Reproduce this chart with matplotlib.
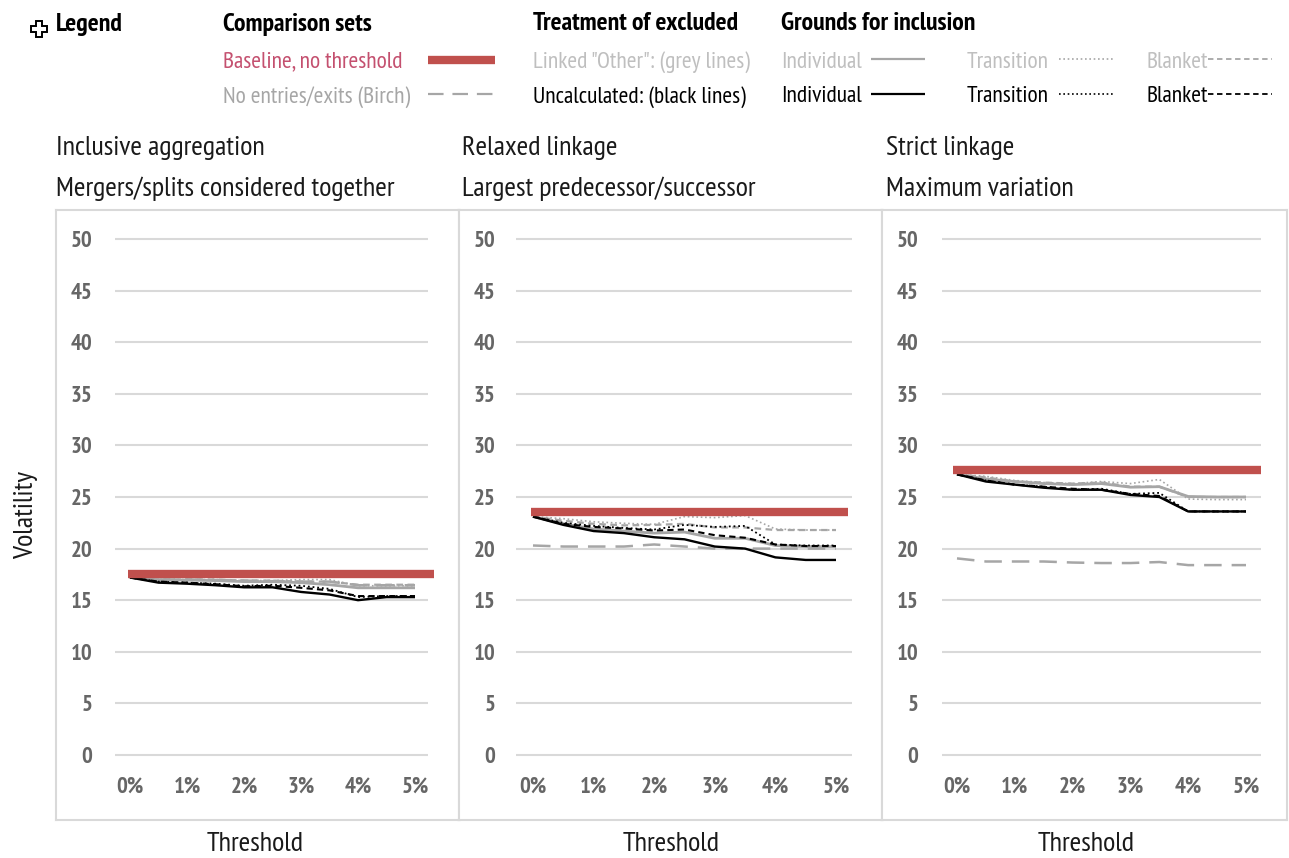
import matplotlib
matplotlib.use("Agg")
import matplotlib.pyplot as plt
from matplotlib.lines import Line2D
from matplotlib import font_manager as fm

W, H = 1289, 858
installed = {f.name for f in fm.fontManager.ttflist}
if 'PT Sans Narrow' in installed:
    plt.rcParams['font.family'] = ['PT Sans Narrow', 'Liberation Sans', 'DejaVu Sans']
    SCALE = 1.0
else:
    plt.rcParams['font.family'] = ['Liberation Sans', 'DejaVu Sans']
    SCALE = 0.72

thresholds = [0, 0.5, 1, 1.5, 2, 2.5, 3, 3.5, 4, 4.5, 5]
tick_vals = [0, 1, 2, 3, 4, 5]
tick_labels = ['0%', '1%', '2%', '3%', '4%', '5%']
y_ticks = [0, 5, 10, 15, 20, 25, 30, 35, 40, 45, 50]

# Inclusive aggregation
p1_black_solid = [17.2, 16.7, 16.6, 16.45, 16.25, 16.25, 15.8, 15.55, 15.0, 15.3, 15.3]
p1_black_dot = [17.2, 16.8, 16.7, 16.6, 16.4, 16.5, 16.4, 16.1, 15.3, 15.4, 15.4]
p1_black_dash = [17.2, 16.8, 16.7, 16.55, 16.35, 16.4, 16.2, 15.95, 15.4, 15.4, 15.4]
p1_grey_solid = [17.2, 16.95, 16.95, 16.9, 16.8, 16.8, 16.7, 16.5, 16.2, 16.2, 16.2]
p1_grey_dot = [17.2, 17.0, 17.0, 17.0, 16.9, 16.9, 17.0, 17.0, 16.4, 16.4, 16.4]
p1_grey_dash = [17.2, 17.0, 17.0, 17.0, 16.9, 16.9, 16.8, 16.8, 16.5, 16.5, 16.5]
p1_birch = [17.2, 17.0, 17.0, 16.95, 16.9, 16.85, 16.8, 16.8, 16.45, 16.45, 16.45]
p1_base = 17.55
# Relaxed linkage
p2_black_solid = [23.1, 22.3, 21.7, 21.5, 21.1, 20.9, 20.2, 20.0, 19.15, 18.9, 18.9]
p2_black_dot = [23.1, 22.5, 22.2, 22.0, 21.85, 22.3, 22.1, 22.2, 20.4, 20.3, 20.3]
p2_black_dash = [23.1, 22.4, 22.1, 21.95, 21.75, 21.85, 21.3, 21.05, 20.4, 20.25, 20.25]
p2_grey_solid = [23.1, 22.4, 21.9, 21.7, 21.5, 21.6, 21.0, 21.0, 20.3, 20.2, 20.2]
p2_grey_dot = [23.1, 22.9, 22.6, 22.45, 22.35, 23.1, 23.0, 23.2, 21.9, 21.8, 21.8]
p2_grey_dash = [23.1, 22.7, 22.4, 22.25, 22.3, 22.4, 22.05, 22.05, 21.8, 21.8, 21.8]
p2_birch = [20.3, 20.2, 20.2, 20.2, 20.4, 20.2, 20.0, 20.0, 20.0, 20.0, 20.0]
p2_base = 23.55
# Strict linkage
p3_black_solid = [27.2, 26.5, 26.2, 25.9, 25.7, 25.7, 25.2, 25.0, 23.6, 23.6, 23.6]
p3_black_dot = [27.2, 26.6, 26.2, 26.0, 25.7, 25.8, 25.3, 25.4, 23.6, 23.6, 23.6]
p3_black_dash = [27.2, 26.6, 26.2, 26.0, 25.8, 25.7, 25.3, 25.1, 23.6, 23.6, 23.6]
p3_grey_solid = [27.2, 26.75, 26.5, 26.3, 26.2, 26.3, 25.95, 26.0, 25.05, 25.0, 25.0]
p3_grey_dot = [27.2, 27.0, 26.6, 26.4, 26.3, 26.5, 26.3, 26.7, 24.8, 24.75, 24.75]
p3_grey_dash = [27.2, 26.9, 26.5, 26.4, 26.3, 26.4, 26.0, 26.0, 25.0, 25.0, 25.0]
p3_birch = [19.05, 18.75, 18.75, 18.75, 18.65, 18.6, 18.6, 18.7, 18.4, 18.4, 18.4]
p3_base = 27.6

title_lines = [('Inclusive aggregation', 'Mergers/splits considered together'),
               ('Relaxed linkage', 'Largest predecessor/successor'),
               ('Strict linkage', 'Maximum variation')]

RED = '#C0504D'
GREY = '#A6A6A6'
GRID = '#D9D9D9'
FRAME = '#D9D9D9'
TICK = '#666666'

fig = plt.figure(figsize=(W / 100, H / 100), dpi=100, facecolor='white')

def fx(x):
    return x / W
def fy(y):
    return 1 - y / H

panels = [
    dict(box=(56, 459), zero=130, five=415, grid=(115, 428), base=(128, 434), title_x=56, xlab=255,
         s=[p1_birch, p1_grey_dash, p1_grey_dot, p1_grey_solid, p1_black_dash, p1_black_dot, p1_black_solid], b=p1_base),
    dict(box=(459, 882), zero=533, five=836, grid=(516, 852), base=(531, 848), title_x=462, xlab=671,
         s=[p2_birch, p2_grey_dash, p2_grey_dot, p2_grey_solid, p2_black_dash, p2_black_dot, p2_black_solid], b=p2_base),
    dict(box=(882, 1287), zero=957, five=1246, grid=(942, 1261), base=(953, 1261), title_x=886, xlab=1086,
         s=[p3_birch, p3_grey_dash, p3_grey_dot, p3_grey_solid, p3_black_dash, p3_black_dot, p3_black_solid], b=p3_base),
]
styles = [
    dict(color=GREY, lw=1.8, dashes=(7, 4)),
    dict(color=GREY, lw=1.6, dashes=(3, 2)),
    dict(color=GREY, lw=1.2, dashes=(1, 1.6)),
    dict(color=GREY, lw=2.0),
    dict(color='black', lw=1.5, dashes=(3, 2)),
    dict(color='black', lw=1.3, dashes=(1, 1.6)),
    dict(color='black', lw=1.7),
]

Y0, PX_PER = 755.0, 10.32
TOP, BOT = 210, 820
for i, p in enumerate(panels):
    l, r = p['box']
    ax = fig.add_axes([fx(l), fy(BOT), (r - l) / W, (BOT - TOP) / H])
    sc = (p['five'] - p['zero']) / 5
    to_x = lambda px: (px - p['zero']) / sc
    ax.set_xlim(to_x(l), to_x(r))
    ax.set_ylim((Y0 - BOT) / PX_PER, (Y0 - TOP) / PX_PER)
    ax.hlines(y_ticks, to_x(p['grid'][0]), to_x(p['grid'][1]), color=GRID, lw=1.5, zorder=1)
    for vals, st in zip(p['s'], styles):
        st = dict(st)
        d = st.pop('dashes', None)
        ln, = ax.plot(thresholds, vals, zorder=3, solid_capstyle='butt', **st)
        if d:
            ln.set_dashes(d)
    ax.plot([to_x(p['base'][0]), to_x(p['base'][1])], [p['b'], p['b']], color=RED, lw=6, zorder=4, solid_capstyle='butt')
    ax.set_xticks(tick_vals, tick_labels)
    ax.set_yticks(y_ticks)
    ax.tick_params(axis='both', length=0, labelsize=16.5 * SCALE, labelcolor=TICK)
    ax.tick_params(axis='y', pad=-26)
    ax.tick_params(axis='x', pad=-31)
    for t in ax.get_xticklabels() + ax.get_yticklabels():
        t.set_fontweight('bold')
    for s in ax.spines.values():
        s.set_color(FRAME)
        s.set_linewidth(1.5)
    for t, y in zip(title_lines[i], (148, 189)):
        fig.text(fx(p['title_x']), fy(y), t, fontsize=20.3 * SCALE, color='#1a1a1a', va='center', ha='left')
    fig.text(fx(p['xlab']), fy(844), 'Threshold', fontsize=20.3 * SCALE, color='#1a1a1a', ha='center', va='center')

fig.text(fx(26), fy(515), 'Volatility', fontsize=20.3 * SCALE, rotation=90, ha='center', va='center', color='#1a1a1a')

# Legend block
def ltext(x, y, s, color='black', bold=False):
    fig.text(fx(x), fy(y + 2), s, fontsize=(18.5 if bold else 16.9) * SCALE, color=color, va='center', ha='left',
             fontweight='bold' if bold else 'normal')

def lline(x0, x1, y, **kw):
    d = kw.pop('dashes', None)
    ln = Line2D([fx(x0), fx(x1)], [fy(y), fy(y)], transform=fig.transFigure, solid_capstyle='butt', **kw)
    if d:
        ln.set_dashes(d)
    fig.add_artist(ln)

fig.add_artist(Line2D([fx(39)], [fy(29)], transform=fig.transFigure, marker='P', ms=12,
                      mfc='white', mec='black', mew=1.4, ls='none'))
ltext(56, 22, 'Legend', bold=True)
ltext(223, 22, 'Comparison sets', bold=True)
ltext(533, 22, 'Treatment of excluded', bold=True)
ltext(781, 22, 'Grounds for inclusion', bold=True)
ltext(223, 60, 'Baseline, no threshold', color='#C4506F')
ltext(223, 95, 'No entries/exits (Birch)', color='#A6A6A6')
ltext(533, 60, 'Linked "Other": (grey lines)', color='#BFBFBF')
ltext(533, 95, 'Uncalculated: (black lines)')
lline(428, 495, 60, color=RED, lw=6)
lline(428, 495, 94, color=GREY, lw=1.6, dashes=(7, 4))
for y, tc, lc in ((60, '#BFBFBF', GREY), (95, 'black', 'black')):
    ltext(781, y, 'Individual', color=tc)
    ltext(967, y, 'Transition', color=tc)
    ltext(1146, y, 'Blanket', color=tc)
    ly = y - 1
    lline(871, 925, ly, color=lc, lw=1.6)
    lline(1059, 1113, ly, color=lc, lw=1.2, dashes=(1, 1.6))
    lline(1208, 1272, ly, color=lc, lw=1.3, dashes=(3, 2))

fig.savefig('out.png', dpi=100, facecolor='white')
